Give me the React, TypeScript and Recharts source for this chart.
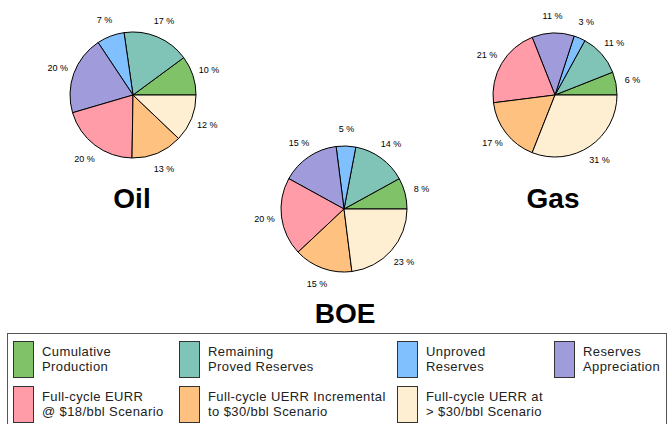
import React from 'react';
import { PieChart, Pie, Cell } from 'recharts';

const categories = [
  'Cumulative Production',
  'Remaining Proved Reserves',
  'Unproved Reserves',
  'Reserves Appreciation',
  'Full-cycle EURR @ $18/bbl Scenario',
  'Full-cycle UERR Incremental to $30/bbl Scenario',
  'Full-cycle UERR at > $30/bbl Scenario',
];

const legendLines = [
  ['Cumulative', 'Production'],
  ['Remaining', 'Proved Reserves'],
  ['Unproved', 'Reserves'],
  ['Reserves', 'Appreciation'],
  ['Full-cycle EURR', '@ $18/bbl Scenario'],
  ['Full-cycle UERR Incremental', 'to $30/bbl Scenario'],
  ['Full-cycle UERR at', '> $30/bbl Scenario'],
];

const oilValues = [10, 17, 7, 20, 20, 13, 12];
const boeValues = [8, 14, 5, 15, 20, 15, 23];
const gasValues = [6, 11, 3, 11, 21, 17, 31];

const colors = ['#80C268', '#80C4B8', '#80C0FF', '#A09CDC', '#FF9CA8', '#FFC17F', '#FFEFD2'];

const FONT = '"Liberation Sans", Arial, sans-serif';
const RADIAN = Math.PI / 180;

const toData = (values: number[]) => values.map((v, i) => ({ name: categories[i], value: v }));

const renderLabel = (props: any) => {
  const { cx, cy, midAngle, outerRadius, value } = props;
  const r = outerRadius + 17;
  const x = cx + r * Math.cos(-midAngle * RADIAN);
  const y = cy + r * Math.sin(-midAngle * RADIAN);
  return (
    <text x={x} y={y} textAnchor="middle" dominantBaseline="central" fontSize={9} fill="#000" fontFamily={FONT}>
      {`${value} %`}
    </text>
  );
};

// legend layout: 4 columns in row one, 3 in row two
const legendCols = [13, 179, 397, 554];

const App: React.FC = () => {
  const pies = [
    { key: 'oil', values: oilValues, cx: 133, cy: 95, r: 63 },
    { key: 'boe', values: boeValues, cx: 344, cy: 209, r: 63 },
    { key: 'gas', values: gasValues, cx: 555, cy: 95, r: 62 },
  ];

  const titles = [
    { text: 'Oil', x: 132, y: 208 },
    { text: 'BOE', x: 345, y: 323 },
    { text: 'Gas', x: 553, y: 208 },
  ];

  return (
    <div style={{ position: 'absolute', left: 0, top: 0, width: 670, height: 424, background: '#fff', fontFamily: FONT }}>
      <PieChart
        width={670}
        height={424}
        margin={{ top: 0, right: 0, bottom: 0, left: 0 }}
        style={{ position: 'absolute', left: 0, top: 0 }}
      >
        {pies.map((p) => (
          <Pie
            key={p.key}
            data={toData(p.values)}
            dataKey="value"
            cx={p.cx}
            cy={p.cy}
            outerRadius={p.r}
            startAngle={0}
            endAngle={360}
            stroke="#000"
            strokeWidth={1}
            label={renderLabel}
            labelLine={false}
            isAnimationActive={false}
          >
            {p.values.map((_, i) => (
              <Cell key={i} fill={colors[i]} />
            ))}
          </Pie>
        ))}
      </PieChart>
      <svg width={670} height={424} style={{ position: 'absolute', left: 0, top: 0, pointerEvents: 'none' }}>
        {titles.map((t) => (
          <text key={t.text} x={t.x} y={t.y} textAnchor="middle" fontSize={28} fontWeight="bold" fill="#000" fontFamily={FONT}>
            {t.text}
          </text>
        ))}
      </svg>
      <div
        style={{
          position: 'absolute',
          left: 7,
          top: 333,
          width: 660,
          height: 92,
          border: '1.5px solid #555',
          boxSizing: 'border-box',
        }}
      />
      {categories.map((c, i) => {
        const row = i < 4 ? 0 : 1;
        const col = i < 4 ? i : i - 4;
        const left = legendCols[col];
        const top = row === 0 ? 340 : 385;
        return (
          <div key={c} style={{ position: 'absolute', left, top, height: 38, display: 'flex', alignItems: 'center' }}>
            <div style={{ width: 21, height: 37, background: colors[i], border: '1px solid #333', boxSizing: 'border-box' }} />
            <div style={{ marginLeft: 8, fontSize: 13, lineHeight: '15px', letterSpacing: 0.4, color: '#222', whiteSpace: 'nowrap' }}>
              {legendLines[i][0]}
              <br />
              {legendLines[i][1]}
            </div>
          </div>
        );
      })}
    </div>
  );
};

export default App;
